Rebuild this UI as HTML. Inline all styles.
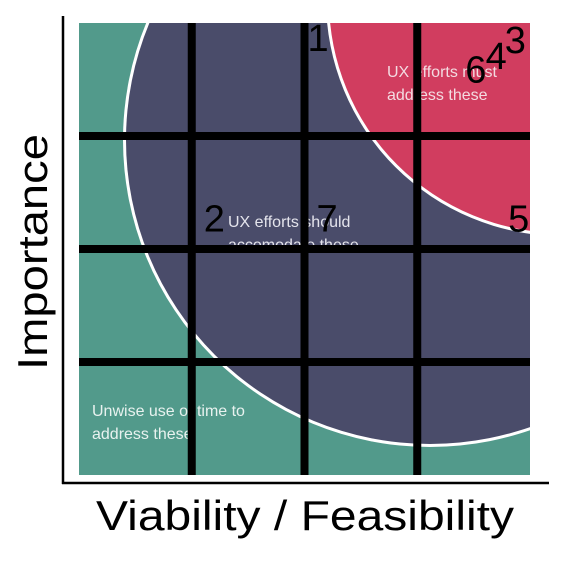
<!DOCTYPE html>
<html><head><meta charset="utf-8"><style>
html,body{margin:0;padding:0;background:#fff;}
svg{display:block;font-family:"Liberation Sans",sans-serif;}
</style></head><body>
<svg id="chart" width="565" height="573" viewBox="0 0 565 573">
<defs><clipPath id="plotclip"><rect x="79" y="23" width="451" height="452"/></clipPath></defs>
<g clip-path="url(#plotclip)">
<rect x="79" y="23" width="451" height="452" fill="#529a8b"/>
<circle cx="430" cy="140" r="307" fill="#fff"/>
<circle cx="430" cy="140" r="304" fill="#4a4c6a"/>
<circle cx="562" cy="0" r="236" fill="#fff"/>
<circle cx="562" cy="0" r="233" fill="#d13d5f"/>
<text x="387" y="77" font-size="16" fill="#f3dbe1">UX efforts must</text>
<text x="387" y="100" font-size="16" fill="#f3dbe1">address these</text>
<text x="228" y="227" font-size="16" fill="#e4e4ec">UX efforts should</text>
<text x="228" y="250" font-size="16" fill="#e4e4ec">accomodate these</text>
<text x="92" y="416" font-size="16" fill="#e8f2ef">Unwise use of time to</text>
<text x="92" y="439" font-size="16" fill="#e8f2ef">address these</text>
</g>
<g id="grid"></g>
<g id="points"></g>
<line x1="63" y1="16" x2="63" y2="484" stroke="#000" stroke-width="2.5"/>
<line x1="62" y1="483" x2="549" y2="483" stroke="#000" stroke-width="2.5"/>
<text x="305" y="530" font-size="42" text-anchor="middle" textLength="418" lengthAdjust="spacingAndGlyphs">Viability / Feasibility</text>
<text transform="translate(47,252) rotate(-90)" font-size="42" text-anchor="middle" textLength="236" lengthAdjust="spacingAndGlyphs">Importance</text>
</svg>
<script>
const gridValues = [1, 2, 3];
const pointLabels = ["1", "2", "3", "4", "5", "6", "7"];
const pointX = [2.12, 1.20, 3.87, 3.70, 3.90, 3.52, 2.20];
const pointY = [3.86, 2.26, 3.84, 3.70, 2.26, 3.58, 2.26];
const X0=79, X1=530, Y0=475, Y1=23;
function sx(v){return X0+(X1-X0)*v/4;}
function sy(v){return Y0-(Y0-Y1)*v/4;}
const NS="http://www.w3.org/2000/svg";
const grid=document.getElementById('grid');
gridValues.forEach(function(g){
  const v=document.createElementNS(NS,'line');
  v.setAttribute('x1',sx(g));v.setAttribute('x2',sx(g));v.setAttribute('y1',Y1);v.setAttribute('y2',Y0);
  v.setAttribute('stroke','#000');v.setAttribute('stroke-width','8');
  
  
  grid.appendChild(v);
  const h=document.createElementNS(NS,'line');
  h.setAttribute('y1',sy(g));h.setAttribute('y2',sy(g));h.setAttribute('x1',X0);h.setAttribute('x2',X1);
  h.setAttribute('stroke','#000');h.setAttribute('stroke-width','8');
  
  
  grid.appendChild(h);
});
const pts=document.getElementById('points');
pointLabels.forEach(function(l,i){
  const t=document.createElementNS(NS,'text');
  t.setAttribute('x',sx(pointX[i]));t.setAttribute('y',sy(pointY[i]));
  t.setAttribute('text-anchor','middle');t.setAttribute('dominant-baseline','central');
  t.setAttribute('font-size','38');t.setAttribute('fill','#000');
  t.textContent=l;
  
  
  pts.appendChild(t);
});
</script>
</body></html>
